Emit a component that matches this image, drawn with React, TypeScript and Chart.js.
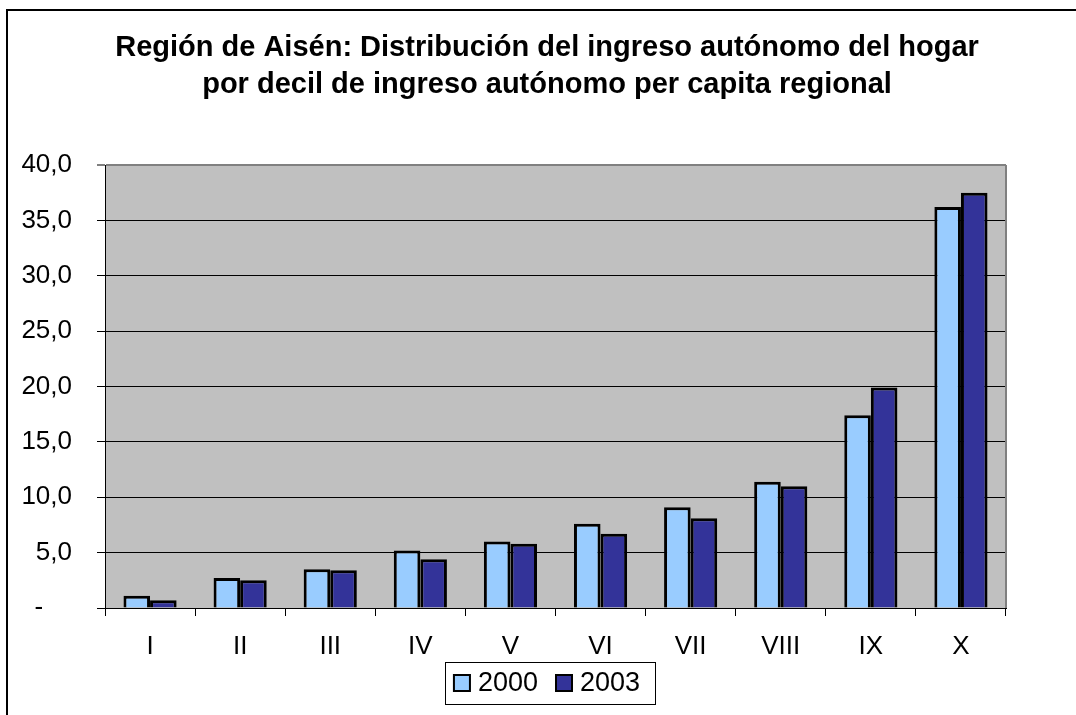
import React, { useEffect, useRef } from "react";
import { Chart, registerables } from "chart.js";

Chart.register(...registerables);

const titleLines = [
  "Región de Aisén: Distribución del ingreso autónomo del hogar",
  "por decil de ingreso autónomo per capita regional",
];
const categories = ["I", "II", "III", "IV", "V", "VI", "VII", "VIII", "IX", "X"];
const seriesNames = ["2000", "2003"];
const values2000 = [1.1, 2.7, 3.5, 5.2, 6.0, 7.6, 9.1, 11.4, 17.4, 36.2];
const values2003 = [0.7, 2.5, 3.4, 4.4, 5.8, 6.7, 8.1, 11.0, 19.9, 37.5];
const yMin = 0;
const yMax = 40;
const yStep = 5;

const FONT = '"Liberation Sans", Arial, sans-serif';

const decorPlugin = {
  id: "decor",
  beforeDraw(chart: any) {
    const { ctx, chartArea } = chart;
    ctx.save();
    ctx.fillStyle = "#ffffff";
    ctx.fillRect(0, 0, chart.width, chart.height);
    ctx.fillStyle = "#C0C0C0";
    ctx.fillRect(chartArea.left, chartArea.top, chartArea.right - chartArea.left, chartArea.bottom - chartArea.top);
    ctx.restore();
  },
  afterDraw(chart: any) {
    const { ctx, chartArea } = chart;
    ctx.save();
    // right edge of plot area
    ctx.strokeStyle = "#808080";
    ctx.lineWidth = 2;
    ctx.beginPath();
    ctx.moveTo(chartArea.right, chartArea.top);
    ctx.lineTo(chartArea.right, chartArea.bottom);
    ctx.stroke();
    // outer frame
    ctx.strokeStyle = "#000";
    ctx.lineWidth = 2;
    ctx.strokeRect(7, 10, 3000, 3000);
    // title
    ctx.fillStyle = "#000";
    ctx.font = "bold 29px " + FONT;
    ctx.textAlign = "center";
    ctx.textBaseline = "middle";
    ctx.fillText(titleLines[0], 547, 48);
    ctx.fillText(titleLines[1], 547, 85);
    // legend
    ctx.font = "27px " + FONT;
    const ds = chart.data.datasets;
    const box = 18, gap = 7, itemGap = 17, padL = 8, padR = 15;
    const widths = ds.map((d: any) => ctx.measureText(d.label).width);
    let total = padL + padR;
    widths.forEach((w: number, i: number) => {
      total += box + gap + w + (i > 0 ? itemGap : 0);
    });
    const cx = 550;
    const left = cx - total / 2;
    const top = 662, h = 42;
    ctx.fillStyle = "#fff";
    ctx.fillRect(left, top, total, h);
    ctx.strokeStyle = "#000";
    ctx.lineWidth = 1;
    ctx.strokeRect(Math.round(left) + 0.5, top + 0.5, Math.round(total), h);
    let x = left + padL;
    const midY = top + h / 2;
    ds.forEach((d: any, i: number) => {
      if (i > 0) x += itemGap;
      ctx.fillStyle = d.backgroundColor;
      ctx.fillRect(x, midY - box / 2, box, box);
      ctx.strokeStyle = "#000";
      ctx.lineWidth = 2;
      ctx.strokeRect(x + 1, midY - box / 2 + 1, box - 2, box - 2);
      x += box + gap;
      ctx.fillStyle = "#000";
      ctx.textAlign = "left";
      ctx.textBaseline = "middle";
      ctx.fillText(d.label, x, midY + 1);
      x += widths[i];
    });
    ctx.restore();
  },
};

export default function App() {
  const ref = useRef<HTMLCanvasElement | null>(null);
  useEffect(() => {
    document.body.style.margin = "0";
    const canvas = ref.current!;
    const chart = new Chart(canvas, {
      type: "bar",
      data: {
        labels: categories,
        datasets: [
          {
            label: seriesNames[0],
            data: values2000,
            backgroundColor: "#99CCFF",
            borderColor: "#000000",
            borderWidth: 3,
            categoryPercentage: 0.59,
            barPercentage: 1.0,
          },
          {
            label: seriesNames[1],
            data: values2003,
            backgroundColor: "#333399",
            borderColor: "#000000",
            borderWidth: 3,
            categoryPercentage: 0.59,
            barPercentage: 1.0,
          },
        ],
      },
      options: {
        responsive: false,
        animation: false,
        devicePixelRatio: 1,
        layout: { padding: { top: 165, left: 0, right: 70, bottom: 53 } },
        plugins: {
          legend: { display: false },
          title: { display: false },
          tooltip: { enabled: false },
        },
        scales: {
          x: {
            afterFit(scale: any) {
              scale.height = 54;
            },
            grid: {
              offset: true,
              drawOnChartArea: false,
              drawTicks: true,
              tickLength: 8,
              color: "#000",
            },
            border: { color: "#000", width: 1 },
            ticks: {
              color: "#000",
              font: { family: FONT, size: 26 },
              padding: 15,
              maxRotation: 0,
            },
          },
          y: {
            min: yMin,
            max: yMax,
            afterFit(scale: any) {
              scale.width = 105;
            },
            grid: {
              color: (c: any) => (c.tick && c.tick.value === yMax ? "#808080" : "#000"),
              lineWidth: (c: any) => (c.tick && c.tick.value === yMax ? 2 : 1),
              tickLength: 8,
              drawTicks: true,
            },
            border: { color: "#000", width: 1 },
            ticks: {
              stepSize: yStep,
              color: "#000",
              font: { family: FONT, size: 26 },
              padding: 25,
              callback: (v: any) => (Number(v) === 0 ? "-    " : Number(v).toFixed(1).replace(".", ",")),
            },
          },
        },
      },
      plugins: [decorPlugin],
    });
    return () => chart.destroy();
  }, []);
  return (
    <div style={{ position: "absolute", left: 0, top: 0, width: 1076, height: 715 }}>
      <canvas ref={ref} width={1076} height={715} />
    </div>
  );
}
